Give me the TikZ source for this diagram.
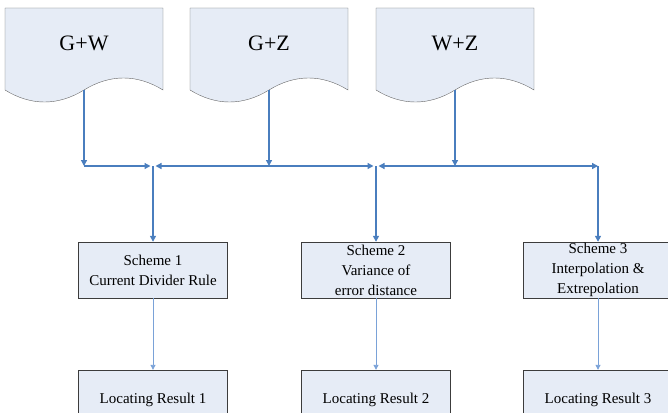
\documentclass[tikz,border=0pt]{standalone}
\usepackage{fontspec}
\setmainfont{Liberation Serif}
\usetikzlibrary{positioning,arrows.meta}
\definecolor{boxfill}{RGB}{230,236,246}
\definecolor{linkblue}{RGB}{74,126,190}
\definecolor{paleblue}{RGB}{122,162,216}
\definecolor{edgegray}{RGB}{60,60,60}

\tikzset{
  scheme/.style={draw=edgegray, fill=boxfill, minimum width=149pt, minimum height=56pt,
    inner sep=1pt, align=center, font=\fontsize{15}{20}\selectfont},
  doclabel/.style={font=\fontsize{22}{26}\selectfont},
  bus/.style={draw=linkblue, line width=1.3pt, -{Triangle[width=6pt,length=6pt]}},
  busend/.style={bus, shorten >=2.5pt},
  feed/.style={draw=paleblue, line width=0.9pt, -{Triangle[width=5pt,length=5pt]}},
}

% wavy document box: name, centre x, text
\newcommand{\docbox}[3]{%
  \draw[draw=gray!80!black, fill=boxfill] (#2-79,8) -- (#2+79,8) -- (#2+79,90)
    .. controls (#2+53,74) and (#2+26,74) .. (#2,90)
    .. controls (#2-26,106) and (#2-53,106) .. (#2-79,90) -- cycle;
  \node[doclabel] (#1) at (#2,43) {#3};
  \coordinate (#1-s) at (#2,90);
}

\begin{document}
\begin{tikzpicture}[x=1pt,y=-1pt]
\clip (0,0) rectangle (668,412);

\docbox{gw}{84}{G+W}
\docbox{gz}{269}{G+Z}
\docbox{wz}{455}{W+Z}

\coordinate (j1) at (84,166);
\coordinate (b1) at (153,166);
\coordinate (j2) at (269,166);
\coordinate (b2) at (376,166);
\coordinate (j3) at (455,166);
\coordinate (b3) at (598,166);

\node[scheme] (s1) at (153,270) {Scheme 1\\Current Divider Rule};
\node[scheme] (s2) at (376,270) {Scheme 2\\Variance of\\error distance};
\node[scheme] (s3) at (598,270) {Scheme 3\\Interpolation \&\\Extrepolation};

\node[scheme, minimum height=60pt] (r1) at (153,400) {Locating Result 1};
\node[scheme, minimum height=60pt] (r2) at (376,400) {Locating Result 2};
\node[scheme, minimum height=60pt] (r3) at (598,400) {Locating Result 3};

\draw[bus] (gw-s) -- (j1);
\draw[bus] (gz-s) -- (j2);
\draw[bus] (wz-s) -- (j3);

\draw[busend] (j1) -- (b1);
\draw[busend] (j2) -- (b1);
\draw[busend] (j2) -- (b2);
\draw[busend] (j3) -- (b2);
\draw[bus] (j3) -- (b3);

\draw[bus] (b1) -- (s1);
\draw[bus] (b2) -- (s2);
\draw[bus] (b3) -- (s3);

\draw[feed] (s1) -- (r1);
\draw[feed] (s2) -- (r2);
\draw[feed] (s3) -- (r3);

\end{tikzpicture}
\end{document}
